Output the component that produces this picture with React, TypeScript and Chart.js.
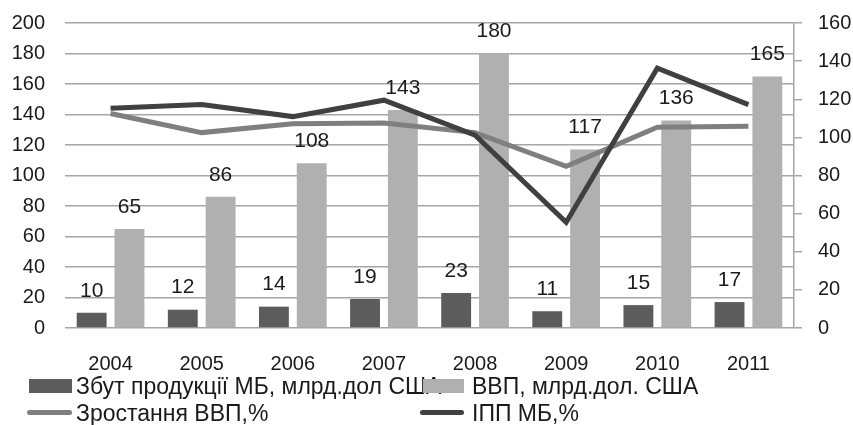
import React, { useEffect, useRef } from "react";
import { Chart, registerables } from "chart.js";

Chart.register(...registerables);

const categories = ["2004", "2005", "2006", "2007", "2008", "2009", "2010", "2011"];
const salesMB = [10, 12, 14, 19, 23, 11, 15, 17];
const gdp = [65, 86, 108, 143, 180, 117, 136, 165];
const gdpGrowth = [112.5, 102.5, 107.2, 107.5, 102.5, 84.8, 105.3, 105.8];
const ippMB = [115.3, 117.2, 110.9, 119.5, 101.2, 55.5, 136.3, 117.2];
const leftTicks = [0, 20, 40, 60, 80, 100, 120, 140, 160, 180, 200];
const rightTicks = [0, 20, 40, 60, 80, 100, 120, 140, 160];

const seriesNames = [
  "Збут продукції МБ, млрд.дол США",
  "ВВП, млрд.дол. США",
  "Зростання ВВП,%",
  "ІПП МБ,%",
];

const FONT = "'Liberation Sans', Arial, sans-serif";
const TEXT = "#1a1a1a";
const GRID = "#a6a6a6";
const C_DARKBAR = "#5c5c5c";
const C_LIGHTBAR = "#b0b0b0";
const C_LIGHTLINE = "#7f7f7f";
const C_DARKLINE = "#404040";

const labelPlugin = {
  id: "barLabels",
  afterDatasetsDraw(chart: any) {
    const ctx = chart.ctx;
    ctx.save();
    ctx.font = `21px ${FONT}`;
    ctx.fillStyle = TEXT;
    ctx.textAlign = "center";
    ctx.textBaseline = "middle";
    chart.data.datasets.forEach((ds: any, i: number) => {
      if (ds.type !== "bar") return;
      const meta = chart.getDatasetMeta(i);
      meta.data.forEach((el: any, j: number) => {
        ctx.fillText(String(ds.data[j]), el.x, el.y - 22);
      });
    });
    ctx.restore();
  },
};

export default function App() {
  const ref = useRef<HTMLCanvasElement | null>(null);

  useEffect(() => {
    if (!ref.current) return;
    const chart = new Chart(ref.current, {
      type: "bar",
      data: {
        labels: categories,
        datasets: [
          {
            type: "line" as any,
            label: seriesNames[2],
            data: gdpGrowth,
            yAxisID: "y1",
            borderColor: C_LIGHTLINE,
            borderWidth: 5,
            pointRadius: 0,
            tension: 0,
            order: 1,
          },
          {
            type: "line" as any,
            label: seriesNames[3],
            data: ippMB,
            yAxisID: "y1",
            borderColor: C_DARKLINE,
            borderWidth: 5,
            pointRadius: 0,
            tension: 0,
            order: 0,
          },
          {
            type: "bar" as any,
            label: seriesNames[0],
            data: salesMB,
            yAxisID: "y",
            backgroundColor: C_DARKBAR,
            categoryPercentage: 0.83,
            barPercentage: 0.79,
            order: 3,
          },
          {
            type: "bar" as any,
            label: seriesNames[1],
            data: gdp,
            yAxisID: "y",
            backgroundColor: C_LIGHTBAR,
            categoryPercentage: 0.83,
            barPercentage: 0.79,
            order: 3,
          },
        ],
      },
      options: {
        animation: false,
        responsive: false,
        maintainAspectRatio: false,
        layout: { padding: { top: 23, bottom: 0, left: 0, right: 0 } },
        plugins: {
          legend: { display: false },
          tooltip: { enabled: false },
        },
        scales: {
          x: {
            grid: { display: false },
            border: { display: false },
            ticks: {
              color: TEXT,
              font: { family: FONT, size: 20 },
              padding: 16,
              maxRotation: 0,
              autoSkip: false,
            },
            afterFit: (s: any) => {
              s.height = 97;
            },
          },
          y: {
            position: "left",
            min: 0,
            max: 200,
            afterBuildTicks: (s: any) => {
              s.ticks = leftTicks.map((v) => ({ value: v }));
            },
            grid: { color: GRID, lineWidth: 1.5, drawTicks: false },
            border: { display: false },
            ticks: {
              color: TEXT,
              font: { family: FONT, size: 20, lineHeight: 0.1 },
              padding: 20,
              autoSkip: false,
            },
            afterFit: (s: any) => {
              s.width = 65;
            },
          },
          y1: {
            position: "right",
            min: 0,
            max: 160,
            afterBuildTicks: (s: any) => {
              s.ticks = rightTicks.map((v) => ({ value: v }));
            },
            grid: {
              drawOnChartArea: false,
              color: GRID,
              lineWidth: 1.5,
              drawTicks: true,
              tickLength: 8,
            },
            border: { display: true, color: GRID, width: 1.5 },
            ticks: {
              color: TEXT,
              font: { family: FONT, size: 20, lineHeight: 0.1 },
              padding: 16,
              autoSkip: false,
            },
            afterFit: (s: any) => {
              s.width = 59;
            },
          },
        },
      },
      plugins: [labelPlugin],
    });
    return () => chart.destroy();
  }, []);

  const legendText: React.CSSProperties = {
    position: "absolute",
    fontFamily: FONT,
    fontSize: 23,
    color: TEXT,
    lineHeight: "24px",
    whiteSpace: "nowrap",
  };

  return (
    <div style={{ position: "absolute", left: 0, top: 0, width: 853, height: 425, background: "#fff" }}>
      <canvas ref={ref} width={853} height={425} style={{ display: "block" }} />
      <div style={{ position: "absolute", left: 29, top: 379, width: 43, height: 14, background: C_DARKBAR }} />
      <div style={{ ...legendText, left: 76, top: 374 }}>{seriesNames[0]}</div>
      <div style={{ position: "absolute", left: 423, top: 379, width: 41, height: 14, background: C_LIGHTBAR }} />
      <div style={{ ...legendText, left: 472, top: 374 }}>{seriesNames[1]}</div>
      <div style={{ position: "absolute", left: 27, top: 410, width: 45, height: 5, borderRadius: 3, background: C_LIGHTLINE }} />
      <div style={{ ...legendText, left: 76, top: 401 }}>{seriesNames[2]}</div>
      <div style={{ position: "absolute", left: 420, top: 410, width: 44, height: 5, borderRadius: 3, background: C_DARKLINE }} />
      <div style={{ ...legendText, left: 472, top: 401 }}>{seriesNames[3]}</div>
    </div>
  );
}
